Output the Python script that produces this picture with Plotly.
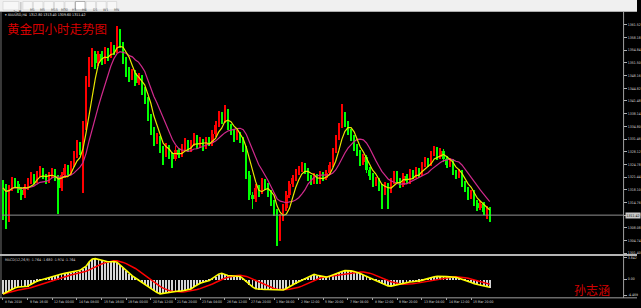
import plotly.graph_objects as go
import pandas as pd

# ---------------- data ----------------
OPEN = [1319.4,1318.6,1316.8,1318.2,1320.4,1319.6,1318.0,1316.5,1318.8,1320.2,
        1321.6,1320.4,1322.2,1323.0,1321.6,1320.6,1321.8,1322.6,1321.2,1318.4,
        1321.8,1323.8,1322.6,1324.8,1327.2,1329.8,1328.4,1334.8,1346.0,1351.6,
        1353.8,1351.4,1353.6,1352.0,1354.4,1353.2,1355.4,1354.6,1359.6,1356.4,
        1352.2,1349.0,1347.4,1348.8,1346.2,1347.6,1344.2,1341.8,1337.2,1333.6,
        1330.8,1331.6,1328.6,1327.2,1329.0,1327.4,1326.2,1328.4,1327.2,1329.0,
        1330.4,1328.8,1330.2,1331.8,1329.6,1330.8,1329.2,1331.0,1330.2,1332.6,
        1335.0,1337.6,1336.2,1338.6,1334.6,1333.2,1331.6,1332.6,1331.0,1329.0,
        1322.0,1316.5,1315.5,1318.5,1317.5,1320.0,1319.0,1317.2,1314.6,1312.2,
        1306.0,1310.6,1313.2,1316.6,1319.6,1321.2,1322.6,1323.4,1324.4,1323.0,
        1321.2,1320.2,1321.6,1320.2,1322.0,1321.2,1322.4,1324.6,1328.2,1331.6,
        1334.8,1337.6,1335.2,1333.2,1331.6,1329.2,1327.6,1325.2,1326.6,1323.2,
        1321.6,1319.6,1320.6,1318.6,1317.2,1319.2,1317.6,1320.2,1322.2,1320.6,
        1319.2,1321.6,1320.2,1322.6,1321.6,1323.2,1322.2,1324.6,1325.8,1324.8,
        1327.4,1328.6,1326.6,1328.2,1326.2,1324.6,1325.6,1322.6,1321.6,1322.6,
        1319.6,1318.2,1316.2,1317.2,1314.6,1313.2,1314.2,1312.2,1312.8]
HIGH = [1320.6,1319.4,1319.2,1321.4,1321.2,1320.2,1318.6,1319.4,1321.0,1322.6,
        1322.2,1323.0,1324.2,1323.6,1322.2,1322.6,1323.8,1323.4,1322.0,1322.6,
        1324.8,1324.6,1325.6,1328.2,1331.0,1330.6,1336.0,1348.0,1353.0,1355.2,
        1354.6,1354.6,1354.4,1355.6,1355.2,1356.8,1356.2,1361.2,1360.4,1357.0,
        1353.0,1350.2,1349.8,1349.4,1348.6,1348.2,1345.0,1342.4,1338.0,1334.4,
        1333.0,1332.2,1329.4,1330.2,1329.8,1328.0,1329.4,1329.0,1330.0,1331.6,
        1331.0,1331.0,1333.0,1332.4,1331.8,1331.4,1332.0,1331.8,1333.6,1336.0,
        1338.6,1338.4,1340.2,1339.2,1335.4,1334.0,1333.6,1333.2,1331.8,1329.6,
        1322.8,1317.4,1319.4,1319.2,1321.0,1320.8,1319.8,1318.0,1315.4,1313.0,
        1311.6,1314.2,1317.6,1320.4,1322.0,1323.4,1324.2,1325.2,1325.0,1323.8,
        1322.0,1322.4,1322.2,1322.8,1322.6,1323.2,1325.4,1329.0,1332.4,1335.6,
        1340.6,1338.4,1336.0,1334.0,1332.4,1330.0,1328.4,1327.4,1327.2,1324.0,
        1322.4,1321.4,1321.2,1319.4,1320.0,1319.8,1321.0,1323.0,1322.8,1321.2,
        1322.4,1322.2,1323.4,1323.2,1324.0,1323.8,1325.4,1326.6,1326.4,1328.2,
        1329.6,1329.2,1329.0,1328.8,1326.8,1326.4,1326.2,1323.2,1323.4,1323.2,
        1320.2,1318.8,1318.0,1317.8,1315.2,1315.0,1314.8,1313.6,1313.4]
LOW = [1310.0,1307.6,1309.5,1317.6,1318.8,1317.2,1315.2,1315.8,1318.0,1319.4,
       1319.6,1319.8,1321.4,1320.8,1319.4,1319.8,1321.0,1320.2,1311.6,1317.6,
       1321.0,1321.8,1322.0,1324.0,1326.4,1327.2,1317.0,1333.6,1345.0,1350.4,
       1349.8,1350.6,1350.8,1351.2,1352.0,1352.6,1353.4,1354.0,1355.2,1351.0,
       1347.8,1346.4,1346.8,1345.2,1345.6,1343.0,1340.6,1336.0,1332.4,1329.6,
       1330.0,1327.6,1324.4,1326.6,1326.2,1323.6,1325.6,1326.4,1326.6,1328.2,
       1327.8,1328.0,1329.6,1328.6,1329.0,1328.2,1328.6,1329.4,1329.6,1332.0,
       1334.4,1335.2,1335.6,1333.8,1332.4,1330.6,1331.0,1330.2,1328.0,1320.8,
       1315.4,1313.0,1314.8,1316.2,1316.8,1318.0,1316.0,1313.6,1311.0,1303.2,
       1304.4,1309.8,1312.4,1315.8,1318.8,1320.4,1321.8,1322.6,1322.2,1320.4,
       1319.2,1319.6,1319.4,1319.6,1320.2,1320.6,1321.8,1324.0,1327.6,1331.0,
       1334.2,1334.4,1332.4,1330.8,1328.2,1326.8,1324.2,1324.6,1322.4,1320.6,
       1318.6,1319.0,1317.6,1313.0,1316.6,1312.8,1317.0,1319.6,1319.8,1318.4,
       1318.6,1319.4,1319.6,1320.8,1321.0,1321.4,1321.6,1324.0,1324.0,1324.2,
       1326.8,1325.8,1326.0,1325.4,1323.8,1324.0,1321.8,1320.8,1321.0,1318.8,
       1317.4,1315.4,1315.6,1313.8,1312.4,1312.6,1311.4,1310.2,1309.6]
CLOSE = [1318.6,1316.8,1318.2,1320.4,1319.6,1318.0,1316.5,1318.8,1320.2,1321.6,
         1320.4,1322.2,1323.0,1321.6,1320.6,1321.8,1322.6,1321.2,1318.4,1321.8,
         1323.8,1322.6,1324.8,1327.2,1329.8,1328.4,1334.8,1346.0,1351.6,1353.8,
         1351.4,1353.6,1352.0,1354.4,1353.2,1355.4,1354.6,1359.6,1356.4,1352.2,
         1349.0,1347.4,1348.8,1346.2,1347.6,1344.2,1341.8,1337.2,1333.6,1330.8,
         1331.6,1328.6,1327.2,1329.0,1327.4,1326.2,1328.4,1327.2,1329.0,1330.4,
         1328.8,1330.2,1331.8,1329.6,1330.8,1329.2,1331.0,1330.2,1332.6,1335.0,
         1337.6,1336.2,1338.6,1334.6,1333.2,1331.6,1332.6,1331.0,1329.0,1322.0,
         1316.5,1315.5,1318.5,1317.5,1320.0,1319.0,1317.2,1314.6,1312.2,1306.0,
         1310.6,1313.2,1316.6,1319.6,1321.2,1322.6,1323.4,1324.4,1323.0,1321.2,
         1320.2,1321.6,1320.2,1322.0,1321.2,1322.4,1324.6,1328.2,1331.6,1334.8,
         1337.6,1335.2,1333.2,1331.6,1329.2,1327.6,1325.2,1326.6,1323.2,1321.6,
         1319.6,1320.6,1318.6,1317.2,1319.2,1317.6,1320.2,1322.2,1320.6,1319.2,
         1321.6,1320.2,1322.6,1321.6,1323.2,1322.2,1324.6,1325.8,1324.8,1327.4,
         1328.6,1326.6,1328.2,1326.2,1324.6,1325.6,1322.6,1321.6,1322.6,1319.6,
         1318.2,1316.2,1317.2,1314.6,1313.2,1314.2,1312.2,1312.8,1311.42]
MACD = [-2.40,-2.12,-1.85,-1.60,-1.38,-1.26,-1.22,-1.18,-1.13,-0.85,
        -0.55,-0.32,-0.18,-0.02,0.16,0.30,0.45,0.62,0.78,0.86,
        0.95,1.03,1.10,1.18,1.25,1.45,1.80,2.12,2.85,3.30,
        3.36,3.22,3.05,2.90,2.86,2.85,2.88,2.78,2.30,1.85,
        1.40,0.95,0.55,0.20,-0.15,-0.48,-0.85,-1.25,-1.58,-1.90,
        -2.18,-2.38,-2.30,-2.15,-2.05,-2.00,-1.96,-1.93,-1.92,-1.85,
        -1.72,-1.60,-1.25,-0.88,-0.65,-0.48,-0.36,-0.20,0.15,0.50,
        0.82,0.96,0.78,0.62,0.58,0.55,0.52,0.46,0.05,-0.40,
        -0.85,-1.25,-1.55,-1.62,-1.64,-1.66,-1.68,-1.70,-1.72,-1.74,
        -1.76,-1.76,-1.50,-1.18,-0.90,-0.65,-0.40,-0.15,0.10,0.32,
        0.58,0.80,0.66,0.52,0.40,0.34,0.48,0.70,0.92,1.10,
        1.25,1.40,1.44,1.36,1.25,1.12,0.92,0.70,0.48,0.25,
        0.02,-0.20,-0.42,-0.65,-0.88,-1.08,-1.12,-1.00,-0.88,-0.74,
        -0.60,-0.50,-0.45,-0.40,-0.36,-0.32,-0.18,-0.02,0.14,0.28,
        0.40,0.46,0.48,0.45,0.42,0.38,0.35,0.32,0.15,-0.05,
        -0.22,-0.38,-0.55,-0.72,-0.85,-0.98,-1.10,-1.20,-1.30]
DATE_LABELS = ["8 Feb 2018", "9 Feb 16:00", "12 Feb 00:00", "14 Feb 08:00", "15 Feb 16:00",
               "19 Feb 00:00", "20 Feb 12:00", "21 Feb 20:00", "23 Feb 04:00", "26 Feb 12:00",
               "27 Feb 20:00", "1 Mar 04:00", "2 Mar 12:00", "5 Mar 20:00", "7 Mar 04:00",
               "8 Mar 12:00", "9 Mar 20:00", "13 Mar 04:00", "14 Mar 12:00", "15 Mar 20:00"]
PRICE_TICKS = [1301.40, 1304.74, 1308.08, 1311.42, 1314.76, 1318.10, 1321.44, 1324.78,
               1328.12, 1331.46, 1334.80, 1338.14, 1341.48, 1344.82, 1348.16, 1351.50,
               1354.84, 1358.18, 1361.52]
IND_LABELS = ["3.842", "0.00", "-4.469"]
TOOLBAR = ["M1", "M5", "M15", "M30", "H1", "H4", "D1", "W1", "MN"]
SYMBOL = "XAUUSD,H4"
TITLE = "黄金四小时走势图"
AUTHOR = "孙志涵"
IND_NAME = "MACD(12,26,9) -1.764 -1.680 -1.974 -1.764"

# ---------------- layout constants ----------------
W, H = 641, 308
LABEL_STEP = 8
X_RANGE = [-0.32, 201.3]
Y_RANGE = [1301.14, 1364.79]
IND_RANGE = [-2.9, 3.842]
IND_LABEL_INSET = 0.3   # MT4 prints the window max/min a little inside the edges
SMALL = 'Liberation Sans Narrow, DejaVu Sans Condensed, DejaVu Sans'


def px(x):
    return x / W


def py(y):
    return 1 - y / H


N = len(CLOSE)
idx = list(range(N))
colors = ['#ff0000' if c >= o else '#00ff00' for o, c in zip(OPEN, CLOSE)]
body_lo = [min(o, c) for o, c in zip(OPEN, CLOSE)]
body_h = [max(abs(c - o), 0.15) for o, c in zip(OPEN, CLOSE)]
wick_h = [h - l for h, l in zip(HIGH, LOW)]

close_s = pd.Series(CLOSE)
ma_fast = close_s.rolling(5, min_periods=1).mean()
ma_slow = close_s.rolling(10, min_periods=1).mean()
signal = pd.Series(MACD).rolling(9, min_periods=1).mean()

fig = go.Figure()
fig.add_trace(go.Bar(x=idx, y=wick_h, base=LOW, width=0.32,
                     marker=dict(color=colors, line=dict(width=0)), xaxis='x', yaxis='y'))
fig.add_trace(go.Bar(x=idx, y=body_h, base=body_lo, width=0.72,
                     marker=dict(color=colors, line=dict(width=0)), xaxis='x', yaxis='y'))
fig.add_trace(go.Scatter(x=idx, y=ma_slow, mode='lines',
                         line=dict(color='#d02a8c', width=1.2), xaxis='x', yaxis='y'))
fig.add_trace(go.Scatter(x=idx, y=ma_fast, mode='lines',
                         line=dict(color='#e6e600', width=1.2), xaxis='x', yaxis='y'))
fig.add_trace(go.Bar(x=idx, y=MACD, width=0.3,
                     marker=dict(color='#d4d4d4', line=dict(width=0)), xaxis='x2', yaxis='y2'))
fig.add_trace(go.Scatter(x=idx, y=signal, mode='lines',
                         line=dict(color='#ff0000', width=1.5), xaxis='x2', yaxis='y2'))
fig.add_trace(go.Scatter(x=idx, y=MACD, mode='lines',
                         line=dict(color='#ffff00', width=1.6), xaxis='x2', yaxis='y2'))

label_pos = [k * LABEL_STEP for k in range(len(DATE_LABELS))]
tick_font = dict(size=3.5, color='#dcdcdc', family=SMALL)

shapes = [
    dict(type='rect', xref='paper', yref='paper', x0=0, x1=1, y0=py(11.5), y1=1,
         fillcolor='#f0f0f0', line=dict(width=0), layer='below'),
    dict(type='line', xref='paper', yref='paper', x0=0, x1=1, y0=py(11.5), y1=py(11.5),
         line=dict(color='#b0b0b0', width=1)),
    dict(type='line', xref='paper', yref='paper', x0=px(627.5), x1=px(627.5), y0=py(299), y1=py(12),
         line=dict(color='#a0a0a0', width=1)),
    dict(type='line', xref='paper', yref='paper', x0=px(1), x1=px(1), y0=py(299), y1=py(12),
         line=dict(color='#707070', width=1)),
    dict(type='line', xref='paper', yref='paper', x0=0, x1=1, y0=py(255.8), y1=py(255.8),
         line=dict(color='#b4b4b4', width=2)),
    dict(type='line', xref='paper', yref='paper', x0=0, x1=1, y0=py(298.8), y1=py(298.8),
         line=dict(color='#a0a0a0', width=1)),
    dict(type='line', xref='paper', yref='y', x0=px(2), x1=px(627), y0=CLOSE[-1], y1=CLOSE[-1],
         line=dict(color='#909090', width=1)),
]

annotations = [
    dict(xref='paper', yref='paper', x=px(3), y=py(15.5), xanchor='left', yanchor='middle',
         text=f"▾ {SYMBOL}  {OPEN[-1]:.2f} {HIGH[-1]:.2f} {LOW[-1]:.2f} {CLOSE[-1]:.2f}",
         showarrow=False, font=dict(size=3.6, color='#e0e0e0', family=SMALL)),
    dict(xref='paper', yref='paper', x=px(5), y=py(28.5), xanchor='left', yanchor='middle',
         text=TITLE, showarrow=False,
         font=dict(size=12.5, color='#d40000', family='Noto Sans CJK SC')),
    dict(xref='paper', yref='paper', x=px(576), y=py(290), xanchor='left', yanchor='middle',
         text=AUTHOR, showarrow=False,
         font=dict(size=12, color='#d40000', family='Noto Sans CJK SC')),
    dict(xref='paper', yref='paper', x=px(3), y=py(261), xanchor='left', yanchor='middle',
         text=IND_NAME, showarrow=False,
         font=dict(size=3.6, color='#d0d0d0', family=SMALL)),
    dict(xref='paper', yref='y', x=px(628.5), y=CLOSE[-1], xanchor='left', yanchor='middle',
         text=f"{CLOSE[-1]:.2f}", showarrow=False, bgcolor='#c8c8c8', borderpad=0.5,
         font=dict(size=3.5, color='#000000', family=SMALL)),
]
for pos, lab in zip(label_pos, DATE_LABELS):
    annotations.append(dict(xref='x2', yref='paper', x=pos, y=py(303), xanchor='left',
                            yanchor='middle', text=lab, showarrow=False,
                            font=dict(size=3.4, color='#dcdcdc', family=SMALL)))

shapes.append(dict(type='rect', xref='paper', yref='paper', x0=px(3), x1=px(19), y0=py(10), y1=py(1.5),
                   fillcolor='#f7f7f7', line=dict(color='#c8c8c8', width=0.5)))
annotations.append(dict(xref='paper', yref='paper', x=px(11), y=py(6), text="↘ ▾", showarrow=False,
                        font=dict(size=5, color='#404040', family='DejaVu Sans')))
shapes.append(dict(type='line', xref='paper', yref='paper', x0=px(21), x1=px(21), y0=py(10), y1=py(2),
                   line=dict(color='#b8b8b8', width=1)))
for k, name in enumerate(TOOLBAR):
    x0 = 23 + k * 10.6
    pressed = name == 'H4'
    shapes.append(dict(type='rect', xref='paper', yref='paper', x0=px(x0), x1=px(x0 + 9.6),
                       y0=py(10), y1=py(1.5),
                       fillcolor='#ffffff' if pressed else '#f7f7f7',
                       line=dict(color='#808080' if pressed else '#cfcfcf', width=0.6)))
    annotations.append(dict(xref='paper', yref='paper', x=px(x0 + 4.8), y=py(6), text=name,
                            showarrow=False,
                            font=dict(size=3.6, color='#505050', family=SMALL)))

fig.update_layout(
    width=W, height=H, margin=dict(l=0, r=0, t=0, b=0),
    paper_bgcolor='#000000', plot_bgcolor='#000000',
    showlegend=False, barmode='overlay', bargap=0,
    xaxis=dict(domain=[px(2), px(627)], range=X_RANGE, showgrid=False, zeroline=False,
               showticklabels=False, showline=False, anchor='y', fixedrange=True),
    xaxis2=dict(domain=[px(2), px(627)], range=X_RANGE, matches='x', showgrid=False,
                zeroline=False, showticklabels=False, showline=False, anchor='y2',
                ticks='outside', tickvals=label_pos, ticklen=2, tickcolor='#a0a0a0'),
    yaxis=dict(domain=[py(255), py(12.5)], range=Y_RANGE, side='right', anchor='x',
               tickvals=PRICE_TICKS, ticktext=[f"{v:.2f}" for v in PRICE_TICKS],
               ticks='outside', ticklen=3, tickcolor='#b0b0b0', tickfont=tick_font,
               showgrid=False, zeroline=False, showline=False),
    yaxis2=dict(domain=[py(298), py(256.5)], range=IND_RANGE, side='right', anchor='x2',
                tickvals=[IND_RANGE[1] - IND_LABEL_INSET, 0, IND_RANGE[0] + IND_LABEL_INSET],
                ticktext=IND_LABELS,
                ticks='outside', ticklen=3, tickcolor='#b0b0b0', tickfont=tick_font,
                showgrid=False, zeroline=False, showline=False),
    shapes=shapes, annotations=annotations,
)

fig.write_html("out.html", config={'displayModeBar': False})
